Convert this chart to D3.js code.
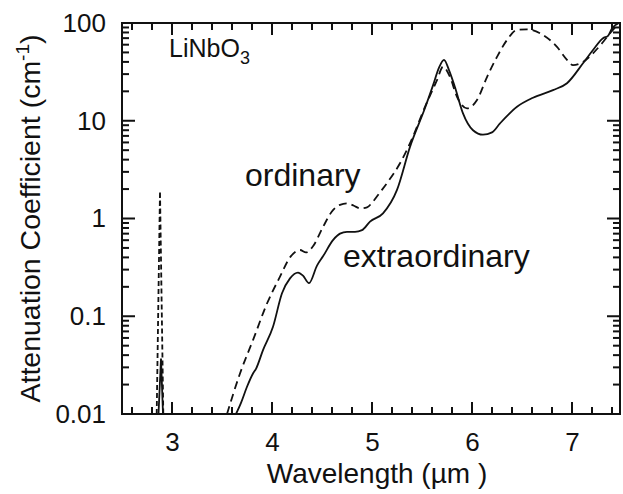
<!DOCTYPE html>
<html>
<head>
<meta charset="utf-8">
<script src="https://cdn.jsdelivr.net/npm/d3@7"></script>
<style>
  body { margin: 0; background: #fff; }
  text { font-family: "Liberation Sans", Arial, Helvetica, sans-serif; fill: #111; }
</style>
</head>
<body>
<div id="chart-area"></div>
<script>

// extraordinary (solid)
var extWl  = [3.64, 3.69, 3.75, 3.81, 3.84, 3.91, 4.01, 4.10, 4.18, 4.26, 4.31, 4.37, 4.45, 4.51, 4.61, 4.68, 4.75, 4.83, 4.90, 4.98, 5.11, 5.25, 5.38, 5.53, 5.61, 5.67, 5.72, 5.77, 5.83, 5.91, 6.01, 6.11, 6.20, 6.28, 6.45, 6.61, 6.81, 6.95, 7.11, 7.21, 7.31, 7.36, 7.40, 7.47];
var extVal = [0.01, 0.013, 0.019, 0.026, 0.029, 0.045, 0.078, 0.172, 0.244, 0.28, 0.26, 0.218, 0.33, 0.41, 0.60, 0.70, 0.73, 0.73, 0.76, 0.93, 1.13, 1.96, 5.4, 13.5, 23, 35, 42, 33, 22, 11.9, 8.0, 7.2, 7.6, 9.4, 13.9, 17.2, 20.6, 24.2, 38.7, 53, 70, 74, 88, 100];

// ordinary (dashed)
var ordWl  = [3.55, 3.68, 3.81, 3.95, 4.08, 4.18, 4.28, 4.34, 4.41, 4.51, 4.61, 4.68, 4.75, 4.82, 4.88, 4.95, 5.01, 5.08, 5.16, 5.28, 5.41, 5.53, 5.65, 5.71, 5.78, 5.85, 5.95, 6.05, 6.15, 6.25, 6.35, 6.45, 6.55, 6.68, 6.85, 6.95, 7.01, 7.11, 7.21, 7.30, 7.38, 7.46];
var ordVal = [0.01, 0.026, 0.057, 0.135, 0.254, 0.40, 0.476, 0.45, 0.52, 0.82, 1.22, 1.38, 1.43, 1.35, 1.27, 1.30, 1.49, 1.85, 2.38, 3.67, 6.9, 13.9, 26, 35.7, 28, 17.6, 13.4, 16.3, 28, 45, 67, 85, 86, 78.5, 57, 42, 37, 40, 49, 62, 78.5, 97];

// narrow peaks near 2.9 um
var ordSpikeWl  = [2.847, 2.88, 2.913];
var ordSpikeVal = [0.01, 1.9, 0.01];
var extSpikeWl  = [2.865, 2.89, 2.91];
var extSpikeVal = [0.01, 0.037, 0.01];

var xTicks = [3, 4, 5, 6, 7];
var yTicks = [0.01, 0.1, 1, 10, 100];
var yTickLabels = ["0.01", "0.1", "1", "10", "100"];

var margin = {top: 23, right: 3, bottom: 80, left: 122},
    plotW = 623 - margin.left - margin.right,
    plotH = 494 - margin.top - margin.bottom;

var svg = d3.select("#chart-area")
    .append("svg")
        .attr("width", 623)
        .attr("height", 494);

var g = svg.append("g")
        .attr("transform", "translate(" + margin.left + "," + margin.top + ")");

var xScale = d3.scaleLinear().domain([2.5, 7.48]).range([0, plotW]);
var yScale = d3.scaleLog().domain([0.01, 100]).range([plotH, 0]);

// minor tick positions
var xMinor = d3.range(2.6, 7.48, 0.2).filter(function(v) { return Math.abs(v - Math.round(v)) > 0.01; });
var yMinor = [];
[0.01, 0.1, 1, 10].forEach(function(d) {
    for (var k = 2; k <= 9; k++) yMinor.push(d * k);
});

// inward ticks on all four sides, drawn as small filled bars
var tickBars = [];
xTicks.forEach(function(v) { tickBars.push({x: xScale(v) - 1, y: plotH - 12, w: 2, h: 12}, {x: xScale(v) - 1, y: 0, w: 2, h: 12}); });
xMinor.forEach(function(v) { tickBars.push({x: xScale(v) - 1, y: plotH - 7, w: 2, h: 7}, {x: xScale(v) - 1, y: 0, w: 2, h: 7}); });
yTicks.forEach(function(v) { tickBars.push({x: 0, y: yScale(v) - 1, w: 13, h: 2}, {x: plotW - 13, y: yScale(v) - 1, w: 13, h: 2}); });
yMinor.forEach(function(v) { tickBars.push({x: 0, y: yScale(v) - 1, w: 7, h: 2}, {x: plotW - 7, y: yScale(v) - 1, w: 7, h: 2}); });

g.append("g").selectAll("rect")
    .data(tickBars)
    .enter().append("rect")
        .attr("x", function(d) { return d.x; })
        .attr("y", function(d) { return d.y; })
        .attr("width", function(d) { return d.w; })
        .attr("height", function(d) { return d.h; })
        .attr("fill", "#111");

g.append("clipPath").attr("id", "plot-clip")
  .append("rect").attr("width", plotW).attr("height", plotH);

var curveLine = d3.line()
    .x(function(d) { return xScale(d[0]); })
    .y(function(d) { return yScale(d[1]); })
    .curve(d3.curveMonotoneX);

var spikeLine = d3.line()
    .x(function(d) { return xScale(d[0]); })
    .y(function(d) { return yScale(d[1]); });

function pairs(a, b) { return a.map(function(v, i) { return [v, b[i]]; }); }

var curves = g.append("g").attr("clip-path", "url(#plot-clip)")
    .attr("fill", "none").attr("stroke", "#111").attr("stroke-width", 1.8);

curves.append("path").attr("d", curveLine(pairs(extWl, extVal)));
curves.append("path").attr("d", spikeLine(pairs(extSpikeWl, extSpikeVal)));
curves.append("path").attr("d", curveLine(pairs(ordWl, ordVal))).attr("stroke-dasharray", "8,5");
curves.append("path").attr("d", spikeLine(pairs(ordSpikeWl, ordSpikeVal))).attr("stroke-dasharray", "5,3");

// axes give the labels only
var xAxis = g.append("g")
    .attr("transform", "translate(0," + plotH + ")")
    .call(d3.axisBottom(xScale).tickValues(xTicks).tickSize(0).tickPadding(19).tickFormat(d3.format("d")));
xAxis.select(".domain").remove();
xAxis.selectAll("text").attr("font-size", 26).attr("font-family", null);

var yAxis = g.append("g")
    .call(d3.axisLeft(yScale).tickValues(yTicks).tickSize(0).tickPadding(16)
        .tickFormat(function(d, i) { return yTickLabels[i]; }));
yAxis.select(".domain").remove();
yAxis.selectAll("text").attr("font-size", 26).attr("font-family", null);

g.append("rect")
    .attr("width", plotW)
    .attr("height", plotH)
    .attr("fill", "none")
    .attr("stroke", "#111")
    .attr("stroke-width", 2);

// labels inside the plot
var sample = g.append("text")
    .attr("x", xScale(2.97)).attr("y", yScale(45))
    .attr("font-size", 25)
    .text("LiNbO");
sample.append("tspan").attr("dy", 7).attr("font-size", 18).text("3");

g.append("text")
    .attr("x", xScale(3.73)).attr("y", yScale(2.15))
    .attr("font-size", 32)
    .text("ordinary");

g.append("text")
    .attr("x", xScale(4.71)).attr("y", yScale(0.32))
    .attr("font-size", 32)
    .text("extraordinary");

// axis titles
svg.append("text")
    .attr("x", 377).attr("y", 483)
    .attr("text-anchor", "middle")
    .attr("font-size", 28)
    .text("Wavelength (\u00b5m )");

var yTitle = svg.append("text")
    .attr("transform", "translate(40," + (margin.top + plotH / 2) + ") rotate(-90)")
    .attr("text-anchor", "middle")
    .attr("font-size", 28.5);
yTitle.append("tspan").text("Attenuation Coefficient (cm");
yTitle.append("tspan").attr("dy", -11).attr("font-size", 19).text("-1");
yTitle.append("tspan").attr("dy", 11).text(")");

</script>
</body>
</html>
